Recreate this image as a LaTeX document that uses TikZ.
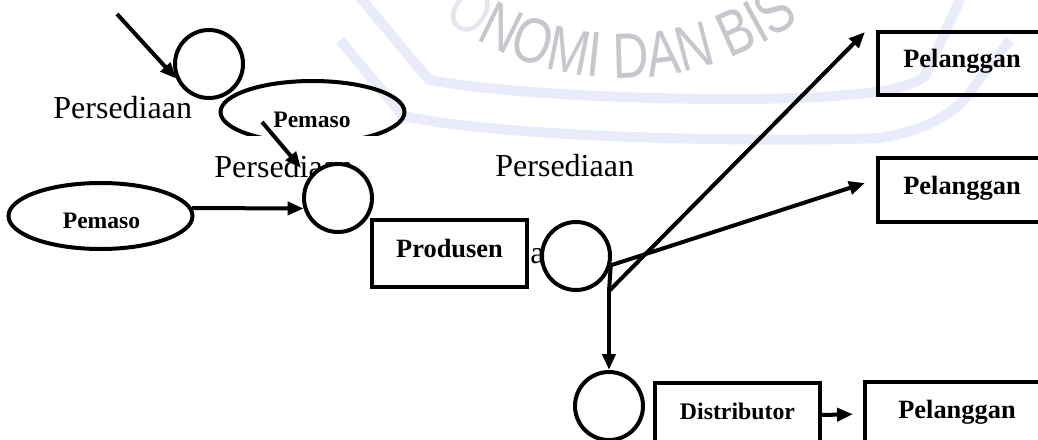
\documentclass[tikz,border=0pt]{standalone}
\usepackage{fontspec}
\setmainfont{Liberation Serif}
\newfontfamily\wmfont[FakeStretch=0.78]{Liberation Sans}
\usetikzlibrary{arrows.meta,decorations.text,calc,shapes.geometric}
\definecolor{wmgray}{RGB}{198,198,204}
\definecolor{wmlight}{RGB}{230,230,238}
\definecolor{wmband}{RGB}{233,235,250}
\begin{document}
\begin{tikzpicture}[x=0.5pt,y=-0.5pt,
  ln/.style={line width=2pt},
  arr/.style={ln,-{Triangle[length=8pt,width=6.5pt]}},
  stock/.style={circle,draw,ln,fill=white,minimum size=34pt,inner sep=0pt},
  supplier/.style={ellipse,draw,ln,minimum width=92pt,minimum height=31pt,inner sep=0pt},
  actor/.style={draw,ln,inner sep=0pt,font=\bfseries\fontsize{13.2}{14}\selectfont,text height=9pt,text depth=5pt},
  lbl/.style={inner sep=0pt,anchor=base west,font=\fontsize{16}{18}\selectfont},
  sup/.style={inner sep=0pt,anchor=base,font=\bfseries\fontsize{11.8}{13}\selectfont},
  band/.style={wmband,line width=5pt,line join=round}
]
\useasboundingbox (0,0) rectangle (1038,439);
\clip (0,0) rectangle (1038,439);

% faint watermark
\draw[band] (358,-5) -- (429,80) .. controls (540,100) and (760,102) .. (835,96) .. controls (880,92) and (905,90) .. (925,76) -- (962,-5);
\draw[band] (340,40) -- (403,116) .. controls (520,140) and (780,142) .. (880,138) .. controls (930,130) and (960,110) .. (975,85) -- (1010,40);
\path[decorate,decoration={text along path,text align=left,
  text={|\wmfont\fontsize{32}{32}\selectfont\color{wmlight}|O|\wmfont\fontsize{32}{32}\selectfont\color{wmgray}|NOMI DAN BIS}}]
  ([shift={(623,-221)}]127:299) arc[start angle=127,end angle=30,radius=299];

% top-left stock
\coordinate (s1) at (117,14);
\node[stock] (c1) at (209,64) {};
\draw[arr] (s1) -- (c1.204);
\node[lbl] (t1) at (53,118) {Persediaan};

% upper supplier (partly hidden)
\node[supplier] (e1) at (312.5,112) {};
\node[sup] (pe1) at (312,127) {Pemaso};
\fill[white] (205,136) rectangle (382,182);
\node[lbl] (t2) at (214,177) {Persediaan};
\coordinate (s2) at (262,122);
\coordinate (q2) at (301,168);
\draw[arr] (s2) -- (q2);

% lower-left supplier
\node[supplier,minimum height=33pt] (e2) at (100.5,216) {};
\node[sup] (pe2) at (101.5,228) {Pemaso};

% stock before producer
\node[stock] (c2) at (338,198) {};
\draw[arr] (e2.5) -- (c2.197);

% producer
\node[actor,minimum width=77.5pt,minimum height=33.5pt] (pr) at (449.5,253.5) {Produsen};
\node[lbl] (ta) at (530,263) {a};
\node[lbl] (t3) at (495,176) {Persediaan};
\node[stock] (c3) at (576,256) {};

% customers
\node[actor,minimum width=84pt,minimum height=31.5pt] (p1) at (962,63.5) {Pelanggan};
\node[actor,minimum width=84pt,minimum height=32pt] (p2) at (962,190) {Pelanggan};
\node[stock] (c4) at (609,406) {};
\node[actor,font=\bfseries\fontsize{11.9}{13}\selectfont,minimum width=82.5pt,minimum height=32pt] (d) at (737.5,415) {Distributor};
\node[actor,minimum width=92pt,minimum height=32pt] (p3) at (957,414) {Pelanggan};

\coordinate (q1) at (865,32);
\coordinate (q4) at (865,183);
\coordinate (j) at (609,291);
\draw[arr] (c3.-15) -- (q4);
\draw[ln] (c3.-15) -- (j);
\draw[arr] (j) -- (c4.north);
\draw[arr] (j) -- (q1);
\draw[arr,shorten >=5pt] (d.east) -- (p3.west);
\end{tikzpicture}
\end{document}
